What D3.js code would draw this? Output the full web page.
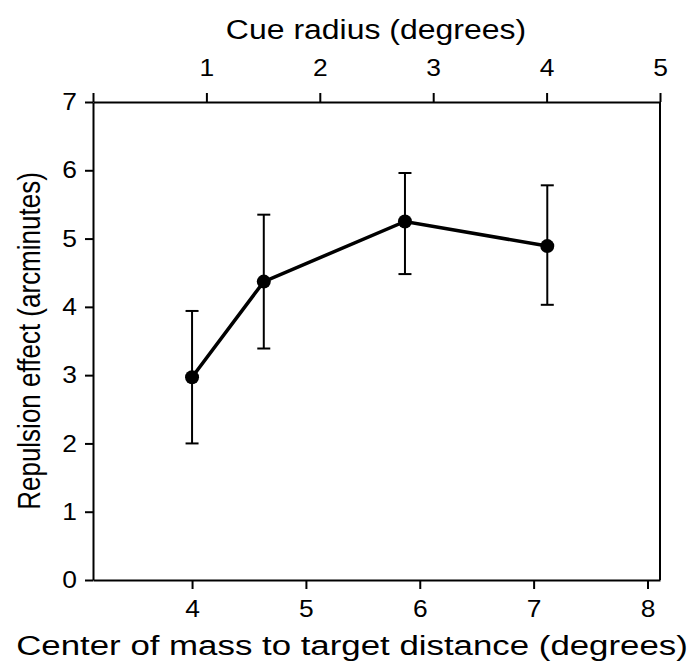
<!DOCTYPE html>
<html><head><meta charset="utf-8">
<script src="https://cdn.jsdelivr.net/npm/d3@7"></script>
<style>body{margin:0;background:#fff}svg{display:block}text{font-family:"Liberation Sans",Arial,Helvetica,sans-serif;fill:#000}</style>
</head><body><svg id="c" width="691" height="668"></svg>
<script>
const distance = [4.0, 4.63, 5.87, 7.12];
const effect = [2.97, 4.37, 5.25, 4.89];
const errUpper = [3.94, 5.35, 5.96, 5.78];
const errLower = [2.0, 3.39, 4.48, 4.03];
const yTicks = [0,1,2,3,4,5,6,7];
const bottomTicks = [4,5,6,7,8];
const topTicks = [0,1,2,3,4,5];

const L=93, R=660, T=102, B=580;
const svg = d3.select("#c");
const x = d3.scaleLinear().domain([3.13, 8.11]).range([L,R]);
const xTop = d3.scaleLinear().domain([0,5]).range([L,R]);
const y = d3.scaleLinear().domain([0,7]).range([B,T]);
const FS = 24, SX = 1.1;

function styleAxis(g){
  g.attr("font-size",FS).attr("font-family",'"Liberation Sans",Arial,sans-serif');
  g.selectAll("path,line").attr("stroke","#000").attr("stroke-width",2);
  g.selectAll("text").attr("fill","#000");
}
function stretch(g){
  g.selectAll(".tick text").each(function(){
    const t=d3.select(this);
    const tx=+t.attr("x")||0, ty=+t.attr("y")||0;
    t.attr("x",0).attr("y",0).attr("transform",`translate(${tx},${ty}) scale(${SX},1)`);
  });
}
const gl = svg.append("g").attr("transform",`translate(${L},0)`)
  .call(d3.axisLeft(y).tickValues(yTicks).tickFormat(d3.format("d")).tickSize(8).tickSizeOuter(0).tickPadding(8));
styleAxis(gl); stretch(gl);
const gb = svg.append("g").attr("transform",`translate(0,${B})`)
  .call(d3.axisBottom(x).tickValues(bottomTicks).tickFormat(d3.format("d")).tickSize(9).tickSizeOuter(0).tickPadding(11));
styleAxis(gb); stretch(gb);
const gt = svg.append("g").attr("transform",`translate(0,${T})`)
  .call(d3.axisTop(xTop).tickValues(topTicks).tickFormat(d=>d===0?"":d).tickSize(9).tickSizeOuter(0).tickPadding(17));
styleAxis(gt); stretch(gt);
svg.append("line").attr("x1",R).attr("x2",R).attr("y1",T).attr("y2",B).attr("stroke","#000").attr("stroke-width",2);

const eb = svg.append("g");
distance.forEach((d,i)=>{
  const cx=x(d);
  eb.append("line").attr("x1",cx).attr("x2",cx).attr("y1",y(errLower[i])).attr("y2",y(errUpper[i])).attr("stroke","#000").attr("stroke-width",2);
  [errLower[i],errUpper[i]].forEach(v=>eb.append("line").attr("x1",cx-6.5).attr("x2",cx+6.5).attr("y1",y(v)).attr("y2",y(v)).attr("stroke","#000").attr("stroke-width",2));
});
const pts = distance.map((d,i)=>[d,effect[i]]);
svg.append("path").attr("d",d3.line().x(p=>x(p[0])).y(p=>y(p[1]))(pts)).attr("fill","none").attr("stroke","#000").attr("stroke-width",3.5);
svg.selectAll("circle.p").data(pts).join("circle").attr("cx",p=>x(p[0])).attr("cy",p=>y(p[1])).attr("r",7).attr("fill","#000");

svg.append("text").attr("transform","translate(376,39) scale(1.142,1)").attr("text-anchor","middle").attr("font-size",28).text("Cue radius (degrees)");
svg.append("text").attr("transform","translate(352,655) scale(1.244,1)").attr("text-anchor","middle").attr("font-size",28).text("Center of mass to target distance (degrees)");
svg.append("text").attr("transform","translate(40,341) rotate(-90) scale(0.929,1.15)").attr("text-anchor","middle").attr("font-size",28).text("Repulsion effect (arcminutes)");
</script></body></html>
